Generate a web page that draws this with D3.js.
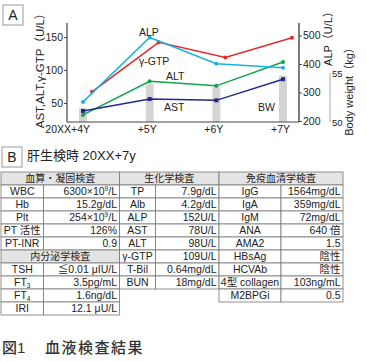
<!DOCTYPE html>
<html><head><meta charset="utf-8">
<script src="https://cdn.jsdelivr.net/npm/d3@7"></script>
<style>
html,body{margin:0;padding:0;background:#fff;}
svg{display:block;font-family:"Liberation Sans",Arial,"Noto Sans CJK JP",sans-serif;}
</style></head>
<body>
<svg id="c" width="367" height="362"></svg>
<script>
// ---------- Data ----------
const categories = ["20XX+4Y", "+5Y", "+6Y", "+7Y"];
const astValues = [38, 56, 54, 86];
const altValues = [32, 83, 76, 112];
const gtpValues = [67, 142, 119, 149];
const alpValues = [267, 493, 401, 387];
const bodyWeight = [51.4, 53.9, 53.6, 54.7];
const leftTicks = [50, 100, 150];
const rightTicks = [200, 300, 400, 500];
const bwTicks = [50, 55];

const tableHeaders = ["血算・凝固検査", "生化学検査", "免疫血清学検査"];
const endocrineHeader = "内分泌学検査";
const bloodRows = [["WBC", "6300×10^9/L"], ["Hb", "15.2g/dL"], ["Plt", "254×10^9/L"], ["PT 活性", "126%"], ["PT-INR", "0.9"]];
const endocrineRows = [["TSH", "≦0.01 μIU/L"], ["FT_3", "3.5pg/mL"], ["FT_4", "1.6ng/dL"], ["IRI", "12.1 μU/L"]];
const biochemRows = [["TP", "7.9g/dL"], ["Alb", "4.2g/dL"], ["ALP", "152U/L"], ["AST", "78U/L"], ["ALT", "98U/L"], ["γ-GTP", "109U/L"], ["T-Bil", "0.64mg/dL"], ["BUN", "18mg/dL"]];
const immuneRows = [["IgG", "1564mg/dL"], ["IgA", "359mg/dL"], ["IgM", "72mg/dL"], ["ANA", "640 倍"], ["AMA2", "1.5"], ["HBsAg", "陰性"], ["HCVAb", "陰性"], ["4型 collagen", "103ng/mL"], ["M2BPGi", "0.5"]];

// ---------- Chart A ----------
const svg = d3.select("#c");
const ink = "#222";

function panelBox(px, py, letter) {
  svg.append("rect").attr("x", px).attr("y", py).attr("width", 20).attr("height", 20)
    .attr("fill", "#fff").attr("stroke", "#999").attr("stroke-width", 1);
  svg.append("text").attr("x", px + 10).attr("y", py + 15).attr("text-anchor", "middle")
    .attr("font-size", 14).attr("fill", ink).text(letter);
}
panelBox(3, 5, "A");

const x = d3.scalePoint().domain(categories).range([83, 283]);
const yL = d3.scaleLinear().domain([0, 150]).range([136, 37]);
const yR = d3.scaleLinear().domain([200, 500]).range([121, 35.5]);
const yBW = d3.scaleLinear().domain([50, 55]).range([122, 73]);

const g = svg.append("g");

// bars (body weight)
g.selectAll("rect.bw").data(categories).join("rect").attr("class", "bw")
  .attr("x", d => x(d) - 4).attr("width", 8)
  .attr("y", (d, i) => yBW(bodyWeight[i]))
  .attr("height", (d, i) => yBW(50) - yBW(bodyWeight[i]))
  .attr("fill", "#d4d4d4");

// axes
const axL = d3.axisLeft(yL).tickValues(leftTicks).tickSize(3).tickPadding(1);
const gL = svg.append("g").attr("transform", "translate(67,0)").call(axL);
gL.select(".domain").remove();
svg.append("line").attr("x1", 67).attr("x2", 67).attr("y1", 23).attr("y2", 122).attr("stroke", "#444").attr("stroke-width", 1.2);

const axR = d3.axisRight(yR).tickValues(rightTicks).tickSize(3).tickPadding(1);
const gR = svg.append("g").attr("transform", "translate(299,0)").call(axR);
gR.select(".domain").remove();
svg.append("line").attr("x1", 299).attr("x2", 299).attr("y1", 23).attr("y2", 122).attr("stroke", "#444").attr("stroke-width", 1.4);

[gL, gR].forEach(a => {
  a.attr("font-family", null).attr("font-size", null);
  a.selectAll("text").attr("font-size", 10.5).attr("fill", ink);
  a.selectAll(".tick line").attr("stroke", "#444");
});

// body weight axis
svg.append("line").attr("x1", 330).attr("x2", 330).attr("y1", yBW(55)).attr("y2", yBW(50))
  .attr("stroke", "#aaa").attr("stroke-width", 1);
svg.selectAll("text.bwt").data(bwTicks).join("text").attr("class", "bwt")
  .attr("x", 332).attr("y", d => yBW(d) + 3.5).attr("font-size", 9.5).attr("fill", ink).text(d => d);

// x axis
svg.append("line").attr("x1", 67).attr("x2", 299).attr("y1", 122).attr("y2", 122).attr("stroke", "#444").attr("stroke-width", 1.2);
svg.selectAll("text.xl").data(categories).join("text").attr("class", "xl")
  .attr("x", d => x(d) + 7).attr("y", 133).attr("text-anchor", "end")
  .attr("font-size", 10.5).attr("fill", ink).text(d => d);

// lines
function series(vals, scale, color, dx, shape) {
  const line = d3.line().x((d, i) => x(categories[i]) + dx).y(d => scale(d));
  g.append("path").datum(vals).attr("d", line).attr("fill", "none")
    .attr("stroke", color).attr("stroke-width", 1.5);
  if (shape === "sq") {
    g.selectAll(null).data(vals).join("rect")
      .attr("x", (d, i) => x(categories[i]) + dx - 2).attr("y", d => scale(d) - 2)
      .attr("width", 4).attr("height", 4).attr("fill", color);
  } else {
    g.selectAll(null).data(vals).join("circle")
      .attr("cx", (d, i) => x(categories[i]) + dx).attr("cy", d => scale(d))
      .attr("r", 2).attr("fill", color);
  }
}
series(gtpValues, yL, "#e32b2b", 9, "c");
series(altValues, yL, "#13a14a", 0, "c");
series(astValues, yL, "#1e2b8c", 0, "sq");
series(alpValues, yR, "#1ab3df", 0, "c");

// series labels
const labels = [["ALP", 139, 36], ["γ-GTP", 139, 65], ["ALT", 166, 80], ["AST", 164, 111], ["BW", 258, 111]];
svg.selectAll("text.sl").data(labels).join("text").attr("class", "sl")
  .attr("x", d => d[1]).attr("y", d => d[2]).attr("font-size", 10.5).attr("fill", ink).text(d => d[0]);

// axis titles
function vtitle(cx, cy, txt, fs) {
  svg.append("text").attr("transform", `translate(${cx},${cy}) rotate(-90)`)
    .attr("text-anchor", "middle").attr("font-size", fs).attr("fill", ink).text(txt);
}
vtitle(44, 68, "AST,ALT,γ-GTP（U/L）", 11.5);
vtitle(332, 36, "ALP（U/L）", 11);
vtitle(353, 89, "Body weight（kg）", 11);

// ---------- Panel B ----------
panelBox(2, 147, "B");
svg.append("text").attr("x", 27).attr("y", 160).attr("font-size", 13).attr("fill", ink).text("肝生検時 20XX+7y");

const cols = [1, 43.5, 119.5, 155.5, 219, 281, 343];
const tableTop = 172, rh = 13;
const tg = svg.append("g");
const stroke = "#777";

function richText(sel, str, fs) {
  const parts = [];
  const re = /([\^_])(\d)/g;
  let last = 0, m;
  while ((m = re.exec(str)) !== null) {
    if (m.index > last) parts.push({ t: str.slice(last, m.index), k: "n" });
    parts.push({ t: m[2], k: m[1] === "^" ? "sup" : "sub" });
    last = m.index + 2;
  }
  if (last < str.length) parts.push({ t: str.slice(last), k: "n" });
  let shift = 0;
  parts.forEach(p => {
    const target = p.k === "sup" ? -4 : p.k === "sub" ? 2 : 0;
    const ts = sel.append("tspan").text(p.t);
    if (target !== shift) ts.attr("dy", target - shift);
    if (p.k !== "n") ts.attr("font-size", fs * 0.62);
    shift = target;
  });
}

function cell(c0, c1, row, txt, align, fill) {
  const x0 = cols[c0], x1 = cols[c1], y0 = tableTop + row * rh;
  tg.append("rect").attr("x", x0).attr("y", y0).attr("width", x1 - x0).attr("height", rh)
    .attr("fill", fill || "#fff").attr("stroke", stroke).attr("stroke-width", 0.8);
  const t = tg.append("text").attr("y", y0 + 10).attr("font-size", 10.5).attr("fill", ink);
  if (align === "end") t.attr("x", x1 - 2.5).attr("text-anchor", "end");
  else t.attr("x", (x0 + x1) / 2).attr("text-anchor", "middle");
  richText(t, txt, 10.5);
  return t;
}
const hdrFill = "#e4e4e4";
cell(0, 2, 0, tableHeaders[0], "middle", hdrFill).attr("font-size", 10);
cell(2, 4, 0, tableHeaders[1], "middle", hdrFill).attr("font-size", 10);
cell(4, 6, 0, tableHeaders[2], "middle", hdrFill).attr("font-size", 10);
bloodRows.forEach((r, i) => { cell(0, 1, i + 1, r[0], "middle"); cell(1, 2, i + 1, r[1], "end"); });
cell(0, 2, bloodRows.length + 1, endocrineHeader, "middle", hdrFill).attr("font-size", 10);
endocrineRows.forEach((r, i) => { const k = bloodRows.length + 2 + i; cell(0, 1, k, r[0], "middle"); cell(1, 2, k, r[1], "end"); });
biochemRows.forEach((r, i) => { cell(2, 3, i + 1, r[0], "middle"); cell(3, 4, i + 1, r[1], "end"); });
immuneRows.forEach((r, i) => { cell(4, 5, i + 1, r[0], "middle"); cell(5, 6, i + 1, r[1], "end"); });

// caption
const cap = svg.append("text").attr("x", 2).attr("y", 353).attr("font-size", 15).attr("fill", "#333").attr("font-weight", 500);
cap.append("tspan").text("図1");
cap.append("tspan").attr("x", 45).attr("letter-spacing", 1.5).text("血液検査結果");
</script>
</body></html>
